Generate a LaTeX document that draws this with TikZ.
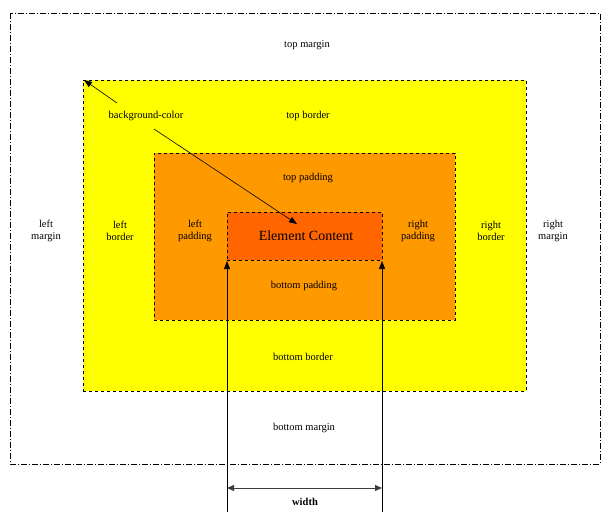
\documentclass[tikz,border=0pt]{standalone}
\usepackage{fontspec}
\setmainfont{Liberation Serif}
\usetikzlibrary{arrows.meta}
\definecolor{yel}{RGB}{255,255,0}
\definecolor{pad}{RGB}{255,153,0}
\definecolor{cont}{RGB}{255,102,0}
\begin{document}
\begin{tikzpicture}[x=1pt,y=-1pt,
  lbl/.style={font=\fontsize{10.5}{12}\selectfont,align=center,inner sep=0pt},
  box/.style={draw=black,dashed,line width=0.6pt},
  arr/.style={-{Triangle[length=8pt,width=6pt]},line width=0.6pt}]
\useasboundingbox (0,0) rectangle (609,522);
\draw[line width=0.5pt,dash pattern=on 6pt off 2pt on 1pt off 2pt] (10,13) rectangle (600,464);
\node[box,fill=yel,minimum width=443,minimum height=311,anchor=north west] (border) at (83,80) {};
\node[box,fill=pad,minimum width=301,minimum height=167,anchor=north west] (padding) at (154,153) {};
\node[box,fill=cont,minimum width=155,minimum height=48,anchor=north west] (content) at (227,212) {};
\node[font=\fontsize{14}{16}\selectfont] (ec) at (306,236) {Element Content};
\node[lbl] (tm) at (307,45) {top margin};
\node[lbl] (bm) at (304,428) {bottom margin};
\node[lbl] (lm) at (46,231) {left\\margin};
\node[lbl] (rm) at (553,231) {right\\margin};
\node[lbl] (tb) at (308,116) {top border};
\node[lbl] (bb) at (303,357) {bottom border};
\node[lbl] (lb) at (120,231) {left\\border};
\node[lbl] (rb) at (491,231) {right\\border};
\node[lbl] (tp) at (308,178) {top padding};
\node[lbl] (bp) at (304,286) {bottom padding};
\node[lbl] (lp) at (195,231) {left\\padding};
\node[lbl] (rp) at (418,231) {right\\padding};
\node[lbl] (bg) at (146,116) {background-color};
\coordinate (c1) at (84,80);
\coordinate (c2) at (297,224);
\draw[arr] (117,103) -- (c1);
\draw[arr] (154,129) -- (c2);
\coordinate (la) at (227,512);
\coordinate (lb2) at (227,261);
\coordinate (ra) at (382,512);
\coordinate (rb2) at (382,261);
\draw[arr] (la) -- (lb2);
\draw[arr] (ra) -- (rb2);
\coordinate (wl) at (227,488);
\coordinate (wr) at (382,488);
\draw[{Triangle[length=7pt,width=6pt]}-{Triangle[length=7pt,width=6pt]},line width=1pt,draw=black!75,fill=black] (wl) -- (wr);
\node[lbl,font=\fontsize{10.5}{12}\selectfont\bfseries] (w) at (305,502) {width};
\end{tikzpicture}
\end{document}
